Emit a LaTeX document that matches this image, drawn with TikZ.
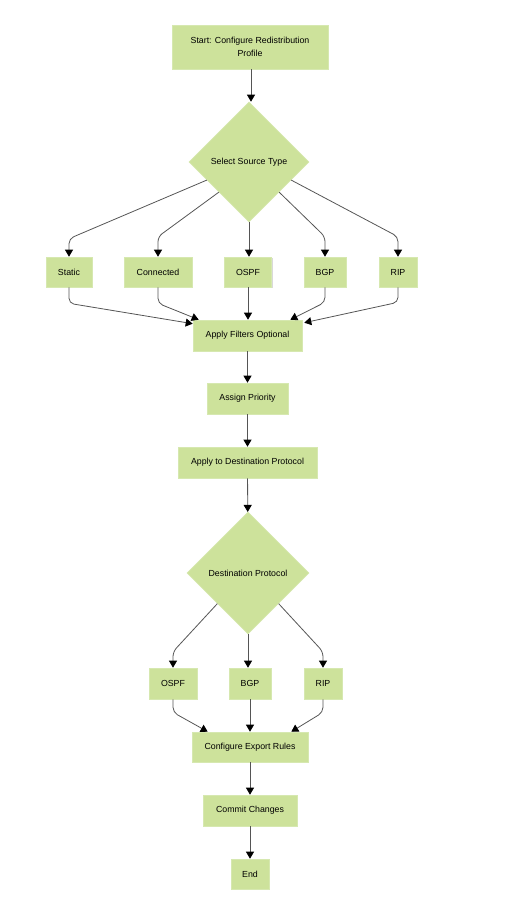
\documentclass[tikz,border=0pt]{standalone}
\usepackage{fontspec}
\setmainfont{Liberation Sans}
\usetikzlibrary{shapes.geometric,arrows.meta,calc,shadows}

\definecolor{stepgreen}{RGB}{205,226,155}
\definecolor{stepedge}{RGB}{214,232,176}
\definecolor{flowgray}{RGB}{85,85,85}

\tikzset{
  box/.style={rectangle,fill=stepgreen,draw=stepedge,line width=0.6pt,inner sep=0pt,
    drop shadow={shadow xshift=1.2pt,shadow yshift=-1.2pt,fill=black!25,opacity=0.6},
    font=\fontsize{8.8}{13}\selectfont,align=center},
  choice/.style={diamond,aspect=1,fill=stepgreen,draw=stepedge,line width=0.6pt,inner sep=0pt,
    font=\fontsize{8.8}{13}\selectfont,align=center},
  flow/.style={draw=flowgray,line width=0.8pt,rounded corners=5pt,
    -{Triangle[width=8pt,length=7pt,color=black]}}
}

\begin{document}
\begin{tikzpicture}[x=1pt,y=-1pt]
      \useasboundingbox (0,0) rectangle (506,919);
      % main column
      \node[box,minimum width=156pt,minimum height=44pt] (start) at (250,47) {Start: Configure Redistribution\\Profile};
      \node[choice,minimum width=120pt,minimum height=120pt] (srctype) at (249,162) {Select Source Type};

      % source types
      \node[box,minimum width=46pt,minimum height=30pt] (static) at (69,272) {Static};
      \node[box,minimum width=68pt,minimum height=30pt] (connected) at (158,272) {Connected};
      \node[box,minimum width=47pt,minimum height=30pt] (srcospf) at (248,272) {OSPF};
      \node[box,minimum width=42pt,minimum height=30pt] (srcbgp) at (325,272) {BGP};
      \node[box,minimum width=38pt,minimum height=30pt] (srcrip) at (398,272) {RIP};

      \node[box,minimum width=109pt,minimum height=31pt] (filters) at (247.5,335.5) {Apply Filters Optional};
      \node[box,minimum width=81pt,minimum height=31pt] (priority) at (247.5,398.5) {Assign Priority};
      \node[box,minimum width=139pt,minimum height=31pt] (applydest) at (247.5,462.5) {Apply to Destination Protocol};
      \node[choice,minimum width=122pt,minimum height=122pt] (desttype) at (248,573) {Destination Protocol};

      % destination protocols
      \node[box,minimum width=48pt,minimum height=31pt] (dstospf) at (173,683.5) {OSPF};
      \node[box,minimum width=42pt,minimum height=31pt] (dstbgp) at (250,683.5) {BGP};
      \node[box,minimum width=38pt,minimum height=31pt] (dstrip) at (323,683.5) {RIP};

      \node[box,minimum width=116pt,minimum height=30pt] (export) at (250,747) {Configure Export Rules};
      \node[box,minimum width=94pt,minimum height=31pt] (commit) at (250,810.5) {Commit Changes};
      \node[box,minimum width=38pt,minimum height=30pt] (end) at (250,874) {End};

      % connectors
      \draw[flow] (start.south -| 251,0) -- (srctype.north -| 251,0);
      \draw[flow] ($(srctype.west)!0.3!(srctype.south)$) -- ([yshift=18pt]static.north) -- (static.north);
      \draw[flow] (srctype.south west) -- ([yshift=20pt]connected.north) -- (connected.north);
      \draw[flow] (srctype.south) -- (srctype.south |- srcospf.north);
      \draw[flow] (srctype.south east) -- ([yshift=20pt]srcbgp.north) -- (srcbgp.north);
      \draw[flow] ($(srctype.east)!0.3!(srctype.south)$) -- ([yshift=20pt]srcrip.north) -- (srcrip.north);

      \draw[flow] (static.south) -- ([yshift=-16pt]static.south) -- ([yshift=-4pt]filters.north west);
      \draw[flow] (connected.south) -- ([yshift=-16pt]connected.south) -- ([xshift=6pt]filters.north west);
      \draw[flow] (srcospf.south) -- (srcospf.south |- filters.north);
      \draw[flow] (srcbgp.south) -- ([yshift=-15pt]srcbgp.south) -- ([xshift=-12pt]filters.north east);
      \draw[flow] (srcrip.south) -- ([yshift=-15pt]srcrip.south) -- ([xshift=2pt,yshift=-3pt]filters.north east);

      \draw[flow] (filters) -- (priority);
      \draw[flow] (priority) -- (applydest);
      \draw[flow] (applydest) -- (desttype);

      \draw[flow] (desttype.south west) -- ([yshift=16pt]dstospf.north) -- (dstospf.north);
      \draw[flow] (desttype.south) -- (desttype.south |- dstbgp.north);
      \draw[flow] (desttype.south east) -- ([yshift=16pt]dstrip.north) -- (dstrip.north);

      \draw[flow] (dstospf.south) -- ([yshift=-13pt]dstospf.south) -- ([xshift=16pt]export.north west);
      \draw[flow] (dstbgp.south) -- (dstbgp.south |- export.north);
      \draw[flow] (dstrip.south) -- ([yshift=-13pt]dstrip.south) -- ([xshift=-17pt]export.north east);

      \draw[flow] (export) -- (commit);
      \draw[flow] (commit) -- (end);
    \end{tikzpicture}
\end{document}
